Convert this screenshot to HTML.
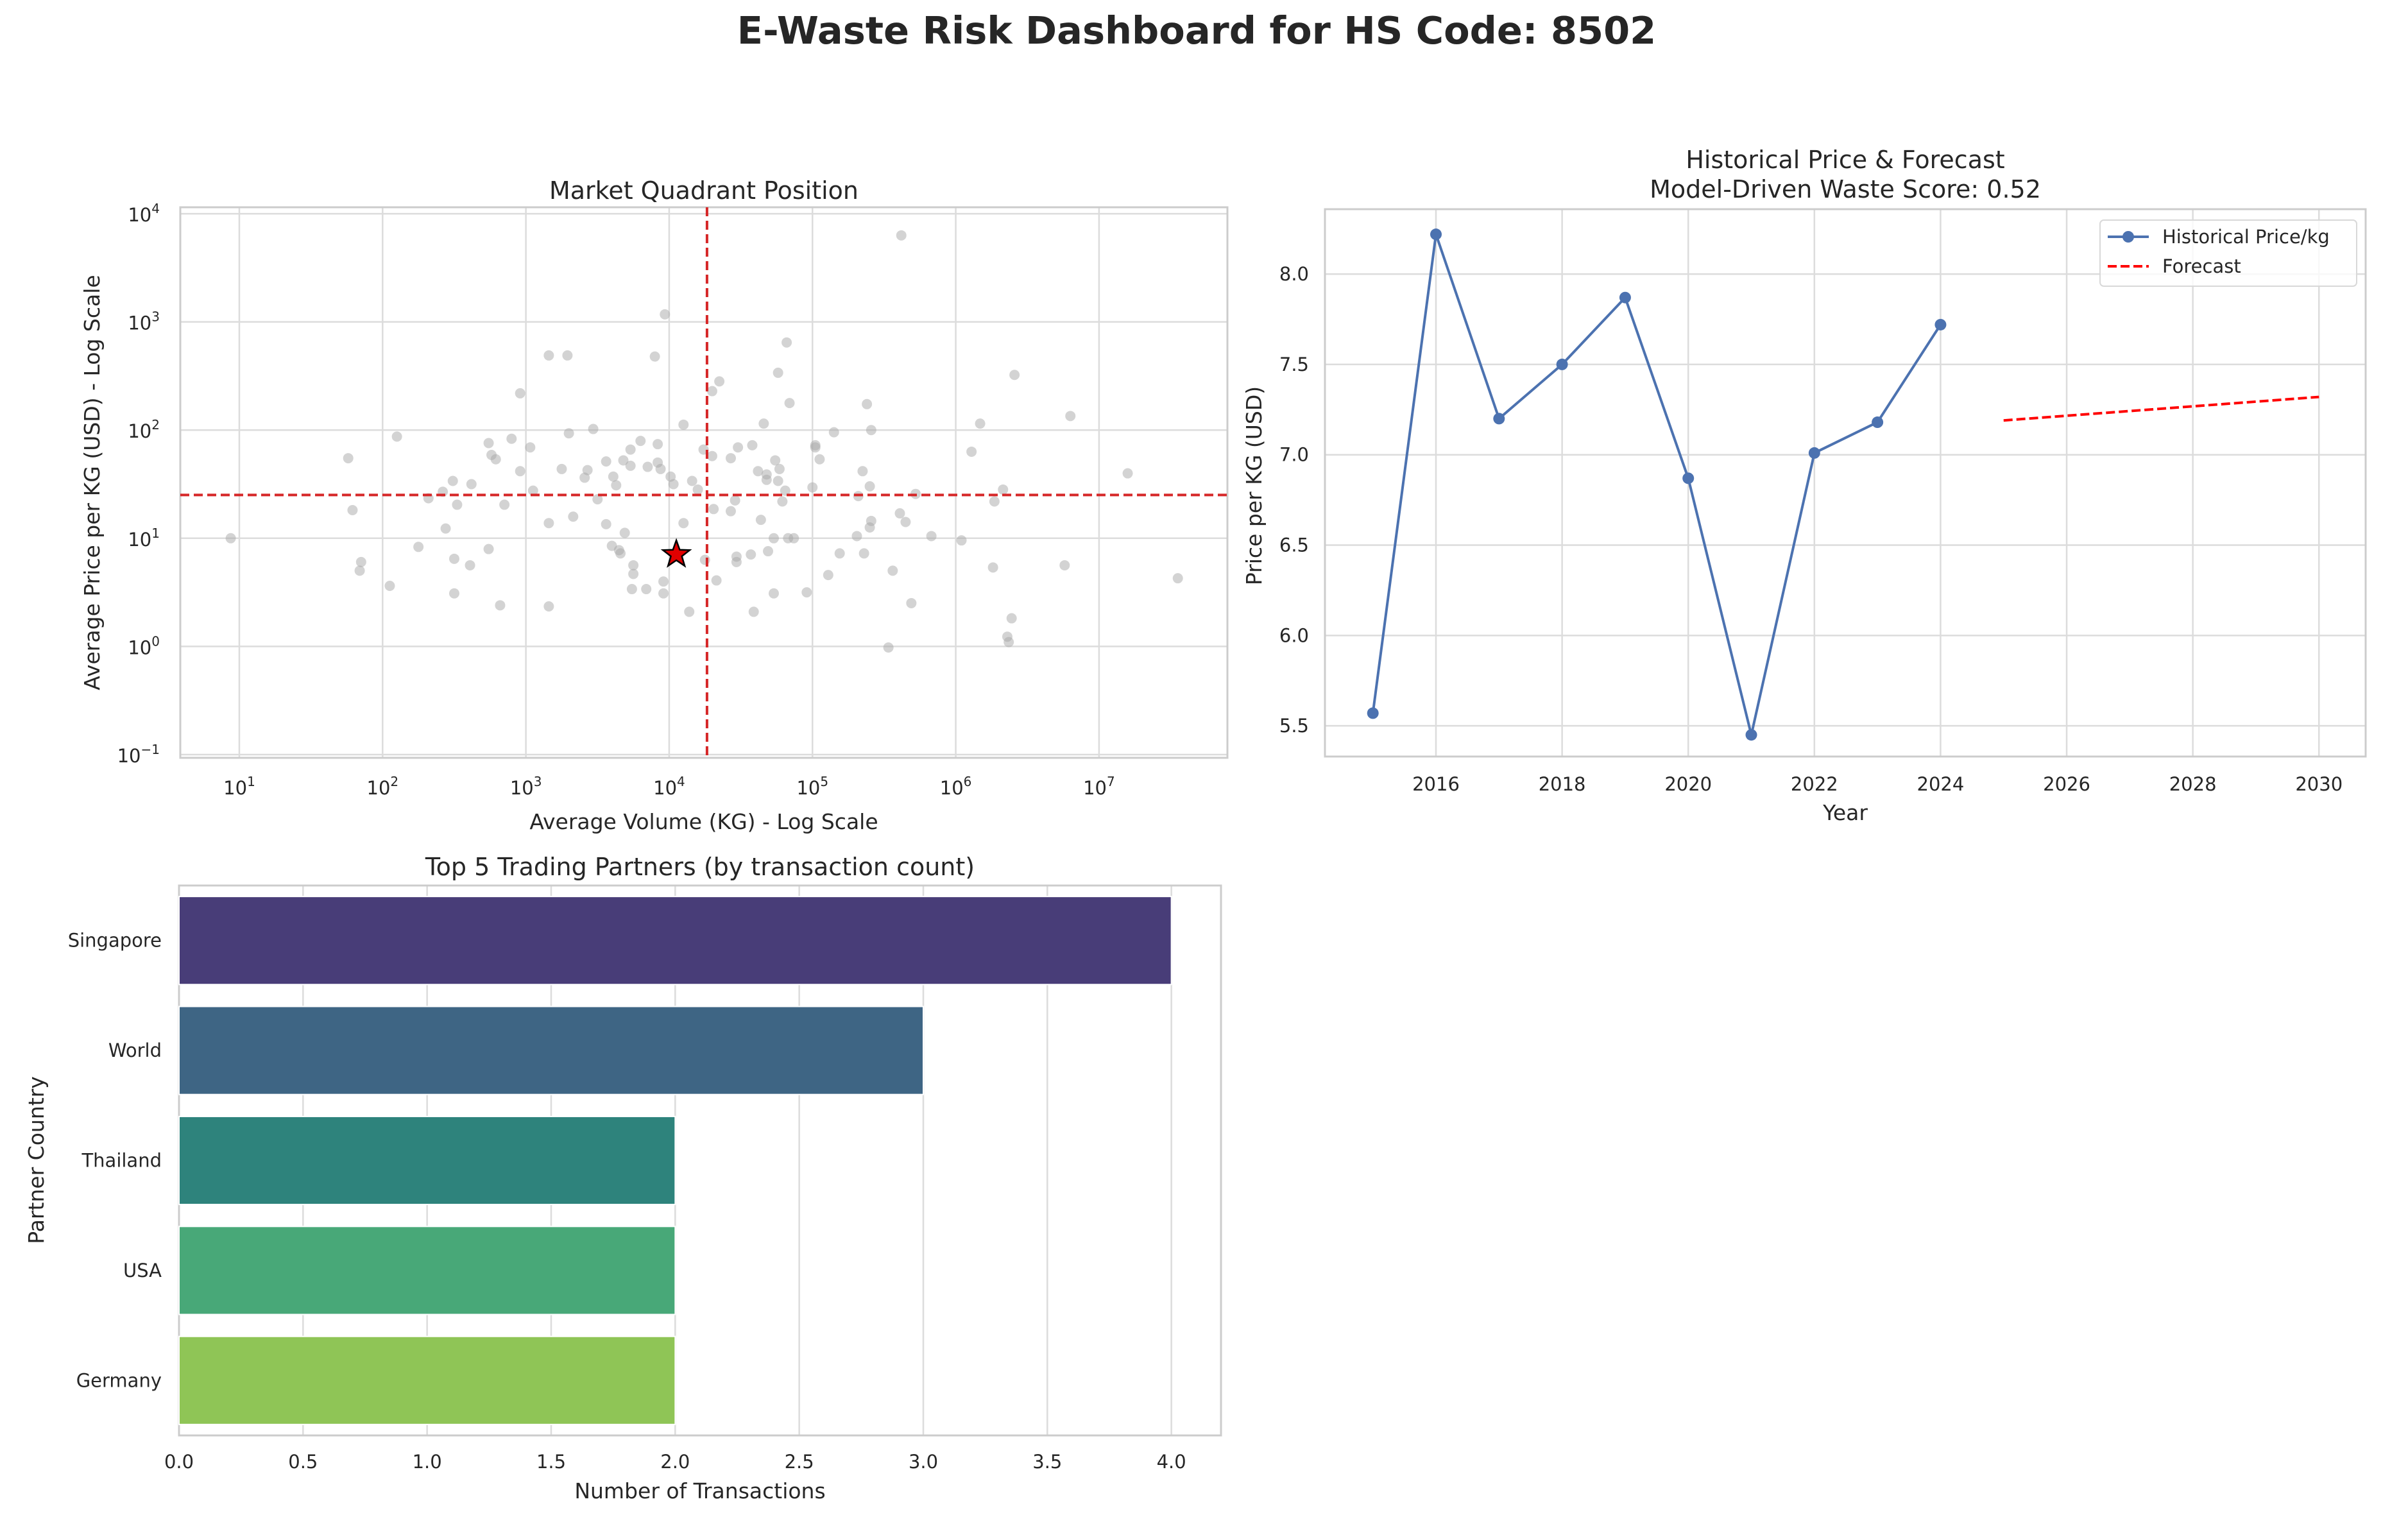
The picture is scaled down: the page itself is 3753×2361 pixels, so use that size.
<!DOCTYPE html>
<html><head><meta charset="utf-8"><style>
html,body{margin:0;padding:0;background:#fff;}
svg{display:block;font-family:"DejaVu Sans","Liberation Sans",sans-serif;}
</style></head><body>
<svg id="fig" width="3753" height="2361" viewBox="0 0 3753 2361" xmlns="http://www.w3.org/2000/svg">
<rect width="3753" height="2361" fill="#fff"/>
<text x="1865" y="68" text-anchor="middle" font-size="59" font-weight="bold" fill="#262626">E-Waste Risk Dashboard for HS Code: 8502</text>
<g id="scatter"></g>
<g id="line"></g>
<g id="bar"></g>
</svg>
<script>
// ---------- Scatter data (log10 values) ----------
const logVolume = [0.94,1.76,1.79,1.85,1.84,2.05,2.10,2.25,2.32,2.42,2.44,2.49,2.50,2.52,2.50,2.61,2.62,2.74,2.76,2.79,2.74,2.82,2.85,2.90,2.96,2.96,3.03,3.05,3.16,3.29,3.16,3.16,3.25,3.30,3.33,3.41,3.43,3.47,3.50,3.56,3.56,3.60,3.61,3.63,3.65,3.66,3.68,3.69,3.73,3.73,3.75,3.75,3.74,3.80,3.84,3.85,3.90,3.92,3.92,3.94,3.96,3.96,3.97,4.01,4.03,4.10,4.10,4.14,4.16,4.20,4.24,4.25,4.30,4.30,4.31,4.33,4.35,4.43,4.43,4.46,4.47,4.47,4.48,4.57,4.58,4.59,4.62,4.64,4.66,4.68,4.68,4.69,4.74,4.73,4.73,4.76,4.76,4.77,4.79,4.81,4.82,4.83,4.84,4.87,4.96,5.00,5.02,5.02,5.05,5.11,5.15,5.19,5.31,5.32,5.35,5.36,5.38,5.40,5.40,5.41,5.41,5.53,5.56,5.61,5.62,5.65,5.69,5.72,5.83,6.04,6.11,6.17,6.26,6.27,6.33,6.36,6.37,6.39,6.41,6.76,6.80,7.20,7.55];
const logPrice = [1.00,1.74,1.26,0.78,0.70,0.56,1.94,0.92,1.37,1.43,1.09,1.53,0.81,1.31,0.49,0.75,1.50,1.88,1.77,1.73,0.90,0.38,1.31,1.92,2.34,1.62,1.84,1.44,2.69,2.69,1.14,0.37,1.64,1.97,1.20,1.56,1.63,2.01,1.36,1.13,1.71,0.93,1.57,1.49,0.89,0.86,1.72,1.05,1.67,1.82,0.75,0.67,0.53,1.90,0.53,1.66,2.68,1.87,1.70,1.64,0.60,0.49,3.07,1.57,1.50,2.05,1.14,0.32,1.53,1.45,1.82,0.80,2.36,1.76,1.27,0.61,2.45,1.74,1.25,1.35,0.83,0.78,1.84,0.85,1.86,0.32,1.62,1.17,2.06,1.54,1.59,0.88,1.72,1.00,0.49,2.53,1.53,1.64,1.34,1.44,2.81,1.00,2.25,1.00,0.50,1.47,1.86,1.84,1.73,0.66,1.98,0.86,1.02,1.39,1.62,0.86,2.24,1.10,1.48,2.00,1.16,-0.01,0.70,1.23,3.80,1.15,0.40,1.41,1.02,0.98,1.80,2.06,0.73,1.34,1.45,0.09,0.04,0.26,2.51,0.75,2.13,1.60,0.63];
const targetLogVolume = 4.05;
const targetLogPrice = 0.85;
const medianLogVolume = 4.264;
const medianLogPrice = 1.40;
const scatterXTickExp = [1,2,3,4,5,6,7];
const scatterYTickExp = [-1,0,1,2,3,4];

// ---------- Line data ----------
const years = [2015,2016,2017,2018,2019,2020,2021,2022,2023,2024];
const prices = [5.57,8.22,7.20,7.50,7.87,6.87,5.45,7.01,7.18,7.72];
const forecastYears = [2025,2030];
const forecastPrices = [7.19,7.32];
const lineXTicks = [2016,2018,2020,2022,2024,2026,2028,2030];
const lineYTicks = [5.5,6.0,6.5,7.0,7.5,8.0];

// ---------- Bar data ----------
const partners = ["Singapore","World","Thailand","USA","Germany"];
const counts = [4,3,2,2,2];
const barColors = ["#483d78","#3e6584","#2e837c","#48a878","#8fc556"];
const barXTicks = [0,0.5,1,1.5,2,2.5,3,3.5,4];

const NS="http://www.w3.org/2000/svg";
function mk(parent,tag,attrs,text){const e=document.createElementNS(NS,tag);for(const k in attrs)e.setAttribute(k,attrs[k]);if(text!==undefined)e.textContent=text;parent.appendChild(e);return e;}
const TXT="#262626", GRID="#dcdcdc", SPINE="#cccccc";

// ===== Scatter =====
(function(){
 const g=document.getElementById('scatter');
 const L=281,R=1913,T=323,B=1181;
 const xmin=0.588,xmax=7.896,ymin=-1.03,ymax=4.06;
 const sx=v=>L+(v-xmin)/(xmax-xmin)*(R-L);
 const sy=v=>B-(v-ymin)/(ymax-ymin)*(B-T);
 scatterXTickExp.forEach(e=>{
  const l=mk(g,'line',{x1:sx(e),x2:sx(e),y1:T,y2:B,stroke:GRID,'stroke-width':2.5});
  
  
  const t=mk(g,'text',{x:sx(e),y:1238,'text-anchor':'middle','font-size':29,fill:TXT});
  
  
  mk(t,'tspan',{},'10');mk(t,'tspan',{dy:-13,'font-size':20},String(e));
 });
 scatterYTickExp.forEach(e=>{
  const l=mk(g,'line',{x1:L,x2:R,y1:sy(e),y2:sy(e),stroke:GRID,'stroke-width':2.5});
  
  
  const t=mk(g,'text',{x:249,y:sy(e)+12,'text-anchor':'end','font-size':29,fill:TXT});
  
  
  mk(t,'tspan',{},'10');mk(t,'tspan',{dy:-13,'font-size':20},e<0?'\u2212'+(-e):String(e));
 });
 mk(g,'rect',{x:L,y:T,width:R-L,height:B-T,fill:'none',stroke:SPINE,'stroke-width':3,});
 logVolume.forEach((v,i)=>{
  const c=mk(g,'circle',{cx:sx(v),cy:sy(logPrice[i]),r:8,fill:'#a8a8a8','fill-opacity':0.5});
  
  
 });
 const vl=mk(g,'line',{x1:sx(medianLogVolume),x2:sx(medianLogVolume),y1:T,y2:B,stroke:'#d62728','stroke-width':4,'stroke-dasharray':'14,7'});
 
 
 const hl=mk(g,'line',{x1:L,x2:R,y1:sy(medianLogPrice),y2:sy(medianLogPrice),stroke:'#d62728','stroke-width':4,'stroke-dasharray':'14,7'});
 
 
 const cx=sx(targetLogVolume),cy=sy(targetLogPrice),ro=22,ri=9;let pts=[];
 for(let k=0;k<10;k++){const a=-Math.PI/2+k*Math.PI/5,r=k%2?ri:ro;pts.push((cx+r*Math.cos(a)).toFixed(1)+','+(cy+r*Math.sin(a)).toFixed(1));}
 const st=mk(g,'polygon',{points:pts.join(' '),fill:'#e00000',stroke:'#000','stroke-width':2.5});
 
 
 mk(g,'text',{x:(L+R)/2,y:310,'text-anchor':'middle','font-size':38,fill:TXT,},'Market Quadrant Position');
 mk(g,'text',{x:(L+R)/2,y:1292,'text-anchor':'middle','font-size':33,fill:TXT,},'Average Volume (KG) - Log Scale');
 mk(g,'text',{x:0,y:0,transform:'translate(155,752) rotate(-90)','text-anchor':'middle','font-size':33,fill:TXT,},'Average Price per KG (USD) - Log Scale');
})();

// ===== Line =====
(function(){
 const g=document.getElementById('line');
 const L=2065,R=3687,T=326,B=1179;
 const xmin=2014.24,xmax=2030.74,ymin=5.33,ymax=8.359;
 const sx=v=>L+(v-xmin)/(xmax-xmin)*(R-L);
 const sy=v=>B-(v-ymin)/(ymax-ymin)*(B-T);
 lineXTicks.forEach(v=>{
  const l=mk(g,'line',{x1:sx(v),x2:sx(v),y1:T,y2:B,stroke:GRID,'stroke-width':2.5});
  
  
  const t=mk(g,'text',{x:sx(v),y:1232,'text-anchor':'middle','font-size':29,fill:TXT},String(v));
  
  
 });
 lineYTicks.forEach(v=>{
  const l=mk(g,'line',{x1:L,x2:R,y1:sy(v),y2:sy(v),stroke:GRID,'stroke-width':2.5});
  
  
  const t=mk(g,'text',{x:2040,y:sy(v)+10,'text-anchor':'end','font-size':29,fill:TXT},v.toFixed(1));
  
  
 });
 mk(g,'rect',{x:L,y:T,width:R-L,height:B-T,fill:'none',stroke:SPINE,'stroke-width':3,});
 const p=mk(g,'polyline',{points:years.map((y,i)=>sx(y)+','+sy(prices[i])).join(' '),fill:'none',stroke:'#4c72b0','stroke-width':4});
 
 
 years.forEach((y,i)=>{
  const c=mk(g,'circle',{cx:sx(y),cy:sy(prices[i]),r:9,fill:'#4c72b0'});
  
  
 });
 const f=mk(g,'polyline',{points:forecastYears.map((y,i)=>sx(y)+','+sy(forecastPrices[i])).join(' '),fill:'none',stroke:'#ff0000','stroke-width':4,'stroke-dasharray':'14,6'});
 
 
 const lg=mk(g,'g',{});
 mk(lg,'rect',{x:3273,y:343,width:400,height:103,rx:6,fill:'#fff','fill-opacity':0.8,stroke:'#d8d8d8','stroke-width':2});
 mk(lg,'line',{x1:3285,x2:3349,y1:369,y2:369,stroke:'#4c72b0','stroke-width':4});
 mk(lg,'circle',{cx:3317,cy:369,r:9,fill:'#4c72b0'});
 mk(lg,'text',{x:3370,y:379,'font-size':29,fill:TXT,},'Historical Price/kg');
 mk(lg,'line',{x1:3285,x2:3349,y1:415,y2:415,stroke:'#ff0000','stroke-width':4,'stroke-dasharray':'14,6'});
 mk(lg,'text',{x:3370,y:425,'font-size':29,fill:TXT,},'Forecast');
 mk(g,'text',{x:(L+R)/2,y:262,'text-anchor':'middle','font-size':38,fill:TXT,},'Historical Price & Forecast');
 mk(g,'text',{x:(L+R)/2,y:308,'text-anchor':'middle','font-size':38,fill:TXT,},'Model-Driven Waste Score: 0.52');
 mk(g,'text',{x:(L+R)/2,y:1278,'text-anchor':'middle','font-size':33,fill:TXT,},'Year');
 mk(g,'text',{x:0,y:0,transform:'translate(1966,757) rotate(-90)','text-anchor':'middle','font-size':33,fill:TXT,},'Price per KG (USD)');
})();

// ===== Bar =====
(function(){
 const g=document.getElementById('bar');
 const L=279,R=1903,T=1380,B=2237;
 const xmax=4.2;
 const sx=v=>L+v/xmax*(R-L);
 const band=(B-T)/partners.length;
 barXTicks.forEach(v=>{
  const l=mk(g,'line',{x1:sx(v),x2:sx(v),y1:T,y2:B,stroke:GRID,'stroke-width':2.5});
  
  
  const t=mk(g,'text',{x:sx(v),y:2288,'text-anchor':'middle','font-size':29,fill:TXT},v.toFixed(1));
  
  
 });
 mk(g,'rect',{x:L,y:T,width:R-L,height:B-T,fill:'none',stroke:SPINE,'stroke-width':3,});
 partners.forEach((p,i)=>{
  const cy=T+band*(i+0.5),h=band*0.8;
  const r=mk(g,'rect',{x:L,y:cy-h/2,width:sx(counts[i])-L,height:h,fill:barColors[i],stroke:'#fff','stroke-width':2});
  
  
  const t=mk(g,'text',{x:252,y:cy+10,'text-anchor':'end','font-size':29,fill:TXT},p);
  
  
 });
 mk(g,'text',{x:(L+R)/2,y:1364,'text-anchor':'middle','font-size':38,fill:TXT,},'Top 5 Trading Partners (by transaction count)');
 mk(g,'text',{x:(L+R)/2,y:2335,'text-anchor':'middle','font-size':33,fill:TXT,},'Number of Transactions');
 mk(g,'text',{x:0,y:0,transform:'translate(68,1808) rotate(-90)','text-anchor':'middle','font-size':33,fill:TXT,},'Partner Country');
})();
</script>
</body></html>
